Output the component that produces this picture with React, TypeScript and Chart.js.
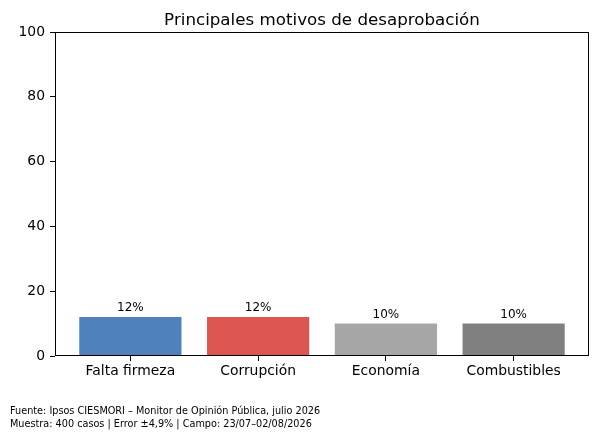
import React, { useEffect, useRef } from "react";
import { Chart, registerables } from "chart.js";

Chart.register(...registerables);

const categories = ["Falta firmeza", "Corrupción", "Economía", "Combustibles"];
const values = [12, 12, 10, 10];
const barColors = ["#4f81bd", "#dc5550", "#a6a6a6", "#808080"];
const yTicks = [0, 20, 40, 60, 80, 100];
const titleText = "Principales motivos de desaprobación";
const footerLines = [
  "Fuente: Ipsos CIESMORI – Monitor de Opinión Pública, julio 2026",
  "Muestra: 400 casos | Error ±4,9% | Campo: 23/07–02/08/2026",
];

const FONT = "'DejaVu Sans', sans-serif";

export default function App() {
  const ref = useRef<HTMLCanvasElement | null>(null);
  useEffect(() => {
    if (!ref.current) return;
    const decor = {
      id: "decor",
      afterDraw(chart: any) {
        const { ctx, chartArea } = chart;
        const ys = chart.scales.y;
        const xs = chart.scales.x;
        ctx.save();
        ctx.strokeStyle = "#000";
        ctx.lineWidth = 1;
        ctx.strokeRect(
          Math.round(chartArea.left) + 0.5,
          Math.round(chartArea.top) + 0.5,
          Math.round(chartArea.right - chartArea.left) - 1,
          Math.round(chartArea.bottom - chartArea.top) - 1
        );
        // title
        ctx.fillStyle = "#000";
        ctx.font = `16.7px ${FONT}`;
        ctx.textAlign = "center";
        ctx.textBaseline = "alphabetic";
        ctx.fillText(titleText, (chartArea.left + chartArea.right) / 2, 25);
        // value labels
        ctx.font = `12px ${FONT}`;
        ctx.textBaseline = "bottom";
        values.forEach((v, i) => {
          ctx.fillText(`${v}%`, xs.getPixelForValue(i), ys.getPixelForValue(v) - 3);
        });
        // footer
        ctx.font = `9.7px ${FONT}`;
        ctx.textAlign = "left";
        ctx.textBaseline = "middle";
        footerLines.forEach((t, i) => ctx.fillText(t, 10, 411 + i * 13.5));
        ctx.restore();
      },
    };
    const chart = new Chart(ref.current, {
      type: "bar",
      data: {
        datasets: [
          {
            data: values.map((v, i) => ({ x: i, y: v })),
            backgroundColor: barColors,
            barPercentage: 0.8,
            categoryPercentage: 1,
            borderWidth: 0,
          },
        ],
      },
      plugins: [decor],
      options: {
        animation: false,
        responsive: false,
        devicePixelRatio: 1,
        layout: { padding: { left: 0, top: 32, right: 10, bottom: 53 } },
        plugins: { legend: { display: false }, tooltip: { enabled: false }, title: { display: false } },
        scales: {
          x: {
            type: "linear",
            offset: false,
            min: -0.59,
            max: 3.59,
            afterBuildTicks: (s: any) => {
              s.ticks = categories.map((_, i) => ({ value: i }));
            },
            afterFit: (s: any) => {
              s.height = 30;
            },
            ticks: {
              callback: (v: any) => categories[v as number] ?? "",
              color: "#000",
              font: { family: FONT, size: 13.9 },
              padding: 2,
              maxRotation: 0,
              autoSkip: false,
            },
            grid: { offset: false, drawOnChartArea: false, drawTicks: true, tickLength: 5, color: "#000" },
            border: { display: false },
          },
          y: {
            min: 0,
            max: 100,
            afterBuildTicks: (s: any) => {
              s.ticks = yTicks.map((v) => ({ value: v }));
            },
            afterFit: (s: any) => {
              s.width = 55;
            },
            ticks: {
              color: "#000",
              font: { family: FONT, size: 13.9 },
              padding: 5,
            },
            grid: { drawOnChartArea: false, drawTicks: true, tickLength: 5, color: "#000" },
            border: { display: false },
          },
        },
      },
    } as any);
    return () => chart.destroy();
  }, []);
  return (
    <div style={{ position: "fixed", left: 0, top: 0, width: 599, height: 439, background: "#fff" }}>
      <canvas ref={ref} width={599} height={439} style={{ width: 599, height: 439, display: "block" }} />
    </div>
  );
}
